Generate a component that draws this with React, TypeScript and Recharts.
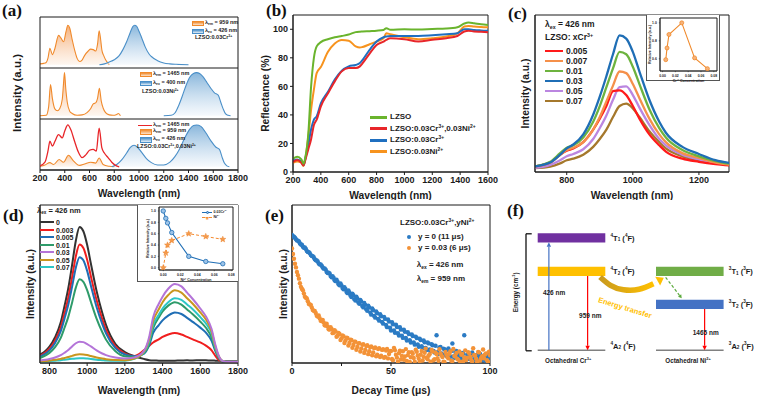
import React from "react";
import {
  ComposedChart, LineChart, ScatterChart, Line, Area, Scatter, XAxis, YAxis,
  ReferenceArea, ReferenceLine, ReferenceDot,
} from "recharts";

const FONT = "'Liberation Sans', Arial, Helvetica, sans-serif";
const SERIF = "'Liberation Serif', 'Times New Roman', serif";
const INK = "#1b1b1b";

// ---------- (a) excitation / emission spectra, normalised per sub-panel ----------
const A_TICKS = [200, 400, 600, 800, 1000, 1200, 1400, 1600, 1800];
const A1_EXC_NM = [200, 230, 250, 265, 280, 300, 320, 350, 370, 390, 410, 425, 440, 460, 480, 500, 520, 540, 560, 590, 610, 630, 650, 665, 678, 690, 700, 715, 730, 745, 760];
const A1_EXC = [0.02, 0.03, 0.05, 0.15, 0.36, 0.22, 0.35, 0.64, 0.58, 0.5, 0.72, 0.86, 0.8, 0.55, 0.32, 0.14, 0.07, 0.1, 0.2, 0.3, 0.34, 0.33, 0.3, 0.45, 0.74, 0.55, 0.32, 0.2, 0.11, 0.05, 0];
const A1_EMI_NM = [680, 720, 760, 800, 840, 870, 900, 930, 950, 965, 980, 1000, 1020, 1050, 1080, 1100, 1150, 1200, 1250, 1300, 1400];
const A1_EMI = [0, 0.02, 0.06, 0.11, 0.2, 0.33, 0.5, 0.71, 0.83, 0.86, 0.84, 0.73, 0.6, 0.39, 0.24, 0.18, 0.09, 0.04, 0.02, 0.01, 0];
const A2_EXC_NM = [200, 250, 270, 285, 300, 320, 340, 360, 380, 390, 398, 408, 420, 440, 460, 500, 540, 580, 610, 630, 650, 665, 680, 695, 710, 730, 760, 790, 820, 835, 850];
const A2_EXC = [0, 0.01, 0.2, 0.68, 0.38, 0.15, 0.11, 0.16, 0.36, 0.7, 0.94, 0.6, 0.3, 0.1, 0.05, 0.01, 0.02, 0.07, 0.16, 0.26, 0.28, 0.38, 0.6, 0.32, 0.17, 0.07, 0.02, 0.01, 0.03, 0.05, 0];
const A2_EMI_NM = [1200, 1260, 1290, 1320, 1350, 1380, 1410, 1440, 1465, 1490, 1520, 1550, 1580, 1610, 1640, 1660, 1680, 1700, 1720, 1740];
const A2_EMI = [0, 0.01, 0.06, 0.22, 0.43, 0.66, 0.84, 0.92, 0.94, 0.92, 0.84, 0.72, 0.6, 0.5, 0.45, 0.3, 0.15, 0.04, 0.01, 0];
const A3_NI_NM = [200, 240, 265, 280, 300, 320, 350, 380, 400, 425, 450, 480, 510, 540, 570, 600, 630, 655, 678, 700, 720, 750, 780, 810, 840];
const A3_NI = [0.02, 0.1, 0.35, 0.56, 0.45, 0.55, 0.7, 0.63, 0.78, 0.91, 0.8, 0.55, 0.32, 0.2, 0.26, 0.36, 0.38, 0.34, 0.84, 0.41, 0.3, 0.2, 0.1, 0.03, 0];
const A3_CR_NM = [200, 240, 280, 310, 355, 390, 430, 470, 520, 560, 610, 650, 678, 710, 760, 800];
const A3_CR = [0.01, 0.04, 0.09, 0.05, 0.16, 0.1, 0.25, 0.13, 0.03, 0.06, 0.1, 0.08, 0.19, 0.05, 0.01, 0];
const A3_EMI_NM = [780, 820, 860, 900, 930, 960, 990, 1020, 1060, 1100, 1150, 1200, 1250, 1290, 1330, 1370, 1410, 1440, 1465, 1500, 1540, 1580, 1620, 1650, 1670, 1690, 1710, 1730];
const A3_EMI = [0, 0.05, 0.15, 0.3, 0.42, 0.47, 0.42, 0.32, 0.18, 0.09, 0.04, 0.04, 0.1, 0.22, 0.4, 0.63, 0.82, 0.9, 0.91, 0.88, 0.74, 0.57, 0.43, 0.38, 0.22, 0.08, 0.02, 0];

// ---------- (b) diffuse reflectance ----------
const B_XTICKS = [200, 400, 600, 800, 1000, 1200, 1400, 1600];
const B_YTICKS = [0, 20, 40, 60, 80, 100];
const REFL_NM = [200, 230, 260, 275, 290, 310, 330, 350, 370, 400, 450, 500, 550, 600, 650, 680, 700, 750, 800, 850, 870, 900, 1000, 1100, 1200, 1300, 1380, 1430, 1460, 1500, 1550, 1600];
const REFL_LZSO = [9.3, 10.7, 8.8, 5.8, 11, 27, 60, 80, 88, 91, 93, 94.4, 95.3, 96.3, 98, 98.3, 98.4, 98.7, 99, 99.5, 100.8, 99.6, 100, 99.8, 100.2, 100.5, 101.4, 104, 104.7, 104.2, 103.5, 103];
const REFL_CRNI = [7, 8.4, 6.5, 4.7, 9, 16, 23, 33, 36.7, 46, 55, 63.5, 70.5, 72.8, 72.8, 74, 76.3, 83, 89, 91.4, 92.6, 93.7, 93, 91.4, 92.6, 93.7, 95.3, 98.4, 99, 98.4, 98.2, 98];
const REFL_CR = [7.7, 8.8, 7.2, 4.7, 10, 19, 30, 36.7, 39, 48, 56, 64.7, 71, 74, 75, 76.3, 78.6, 85.6, 91.4, 94.4, 95, 95.3, 95.3, 95.3, 95.8, 96.5, 97.2, 100, 100, 99.5, 99.2, 99];
const REFL_NI = [6.5, 7.4, 6.5, 4.2, 10, 25, 43.7, 57.7, 69.3, 73.5, 84, 90, 92.5, 92, 88, 87.2, 87.6, 89.5, 91.4, 93.7, 97.2, 96.5, 94.4, 93, 93.7, 94.9, 97.2, 101.9, 102.3, 101.9, 101.6, 101.4];

// ---------- (c) Cr3+ concentration series ----------
const C_TICKS = [800, 1000, 1200];
const C_NM = [700, 750, 780, 800, 820, 850, 880, 900, 920, 940, 960, 980, 1000, 1020, 1050, 1080, 1100, 1150, 1200, 1250, 1300];
const C_005 = [3.5, 6, 11, 13.5, 15, 19, 27, 34, 42, 51.5, 52, 49, 42, 34, 24, 17, 13, 8.5, 6.5, 5, 4];
const C_007 = [3.5, 6, 11, 14, 15.5, 19, 27, 35, 45, 55, 64, 63, 56, 47, 34, 24, 19, 12, 9, 6, 4.5];
const C_01 = [3.5, 6.5, 12, 15.5, 17, 22, 32, 42, 54, 66, 76.5, 75, 67, 56, 40, 28, 22, 14, 10, 7, 5];
const C_03 = [3.5, 6, 11, 15, 17.5, 24, 36.5, 48, 61, 75, 87, 85, 76.5, 64, 46, 32, 25, 16, 11.5, 7.5, 5.5];
const C_05 = [2.5, 4.5, 7.5, 10, 11.5, 14.5, 21, 28, 36, 46, 54, 54.5, 49, 41, 30, 21, 17, 11, 8, 5.5, 4.5];
const C_07 = [2.5, 3.5, 5.5, 7.5, 8.5, 11, 16, 21, 27, 35, 42, 43.5, 40.5, 35, 26, 19, 15, 10, 7.5, 5.5, 4.5];
const C_LABELS = ["0.005", "0.007", "0.01", "0.03", "0.05", "0.07"];
const CI_X = [0.005, 0.007, 0.01, 0.03, 0.05, 0.07];
const CI_Y = [0.59, 0.72, 0.87, 1.0, 0.61, 0.49];

// ---------- (d) Ni2+ concentration series ----------
const D_TICKS = [800, 1000, 1200, 1400, 1600, 1800];
const D_NM = [750, 780, 800, 830, 860, 880, 900, 920, 940, 960, 980, 1000, 1020, 1050, 1080, 1100, 1150, 1200, 1250, 1300, 1330, 1350, 1380, 1400, 1430, 1465, 1500, 1530, 1560, 1600, 1630, 1660, 1680, 1700, 1720, 1750, 1800];
const D_0 = [5.2, 7.7, 10.3, 16.3, 25.8, 36.1, 47.3, 61.9, 77.4, 86, 83.4, 74.8, 62.8, 45.6, 31.8, 24.1, 12, 6.9, 4.3, 2.6, 1.8, 1.6, 1.5, 1.4, 1.4, 1.5, 1.6, 1.7, 1.6, 1.8, 1.7, 1.6, 1.5, 1.4, 1.3, 1.2, 1.2];
const D_003 = [4.5, 6.8, 9, 14.3, 22.5, 31.5, 41.3, 54, 67.5, 75, 72.8, 65.3, 54.8, 39.8, 27.8, 21, 10.5, 6, 4.5, 8, 11, 13, 15, 16.5, 18, 19, 18, 16.5, 15, 13, 11, 8, 4.5, 1.8, 1, 0.8, 0.8];
const D_005 = [4, 6, 8, 12.7, 20.1, 28.1, 36.9, 48.2, 60.3, 67, 65, 58.3, 48.9, 35.5, 24.8, 18.8, 9.4, 5.4, 4.3, 5.8, 11.6, 19, 24, 27, 30, 32, 31, 28.6, 26, 22.4, 19.2, 14, 7.5, 2.8, 1, 0.8, 0.8];
const D_01 = [3.2, 4.8, 6.4, 10, 15.9, 22.3, 29.2, 38.2, 47.7, 53, 51.4, 46.1, 38.7, 28.1, 19.6, 14.8, 7.4, 4.2, 3.8, 6.2, 12.6, 22, 28.8, 32.6, 36.3, 38.5, 37, 33.9, 30.8, 26.2, 22.3, 16.2, 8.5, 3.1, 1, 0.8, 0.8];
const D_03 = [1.5, 2, 2.5, 3.5, 5, 6.5, 8.2, 10.5, 12.5, 13.5, 13.2, 12, 10.5, 8, 6, 5, 3.5, 2.8, 3.5, 7.5, 17, 29, 37.5, 42, 47, 50, 48.5, 44.5, 40.5, 34.5, 29.5, 21.5, 11.5, 4, 1.2, 0.8, 0.8];
const D_05 = [1, 1.2, 1.5, 2, 2.6, 3.2, 3.8, 4.5, 5.2, 5.5, 5.4, 5, 4.4, 3.5, 2.8, 2.4, 1.9, 1.8, 2.8, 7, 15.5, 26.5, 34, 38.5, 43, 46, 44.5, 41, 37.5, 32, 27.5, 20, 10.5, 3.8, 1.2, 0.8, 0.8];
const D_07 = [0.8, 1, 1.2, 1.5, 1.8, 2.1, 2.4, 2.7, 2.9, 3, 3, 2.8, 2.5, 2.1, 1.8, 1.6, 1.4, 1.5, 2.6, 6.5, 14, 24, 30.5, 34.5, 38.5, 41, 40, 37, 34, 29, 25, 18.5, 9.5, 3.5, 1.2, 0.8, 0.8];
const D_LABELS = ["0", "0.003", "0.005", "0.01", "0.03", "0.05", "0.07"];
const DI_X = [0, 0.003, 0.005, 0.01, 0.03, 0.05, 0.07];
const DI_CR = [1.0, 0.87, 0.79, 0.62, 0.2, 0.11, 0.07];
const DI_NI = [0.0, 0.26, 0.4, 0.48, 0.6, 0.55, 0.5];

// ---------- (e) decay curves: samples at whole µs (A) and half µs (B) ----------
const E_TICKS = [0, 25, 50, 75, 100];
const DECAY_CR = [81.0, 79.9, 78.3, 77.4, 75.6, 74.8, 72.9, 72.2, 70.3, 69.5, 67.8, 66.9, 65.0, 64.3, 62.4, 61.6, 59.7, 59.1, 57.0, 56.6, 54.3, 54.0, 51.8, 51.4, 49.2, 49.1, 46.6, 46.9, 44.2, 44.6, 41.8, 42.9, 39.6, 40.8, 37.5, 38.9, 35.2, 36.8, 33.0, 35.1, 30.6, 33.4, 28.7, 31.5, 26.8, 29.6, 24.9, 27.9, 22.7, 26.2, 20.6, 24.5, 19.1, 22.8, 17.4, 21.1, 15.9, 19.8, 14.2, 18.3, 12.9, 17.1, 11.6, 15.8, 10.3, 14.5, 9.4, 13.1, 8.2, 12.4, 7.5, 11.2, 6.6, 17.6, 5.8, 10.1, 5.3, 8.7, 4.4, 9.2, 3.9, 12.3, 3.3, 7.6, 5.1, 2.8, 6.4, 17.6, 2.6, 5.3, 3.8, 6.7, 2.1, 4.9, 3.4, 5.8, 1.9, 4.6, 3.1, 5.2, 2.4];
const DECAY_CR_B = [80.2, 79.3, 77.6, 76.9, 75.0, 73.6, 73.1, 70.9, 70.2, 68.3, 67.6, 65.7, 64.9, 62.9, 62.3, 60.4, 59.9, 57.6, 57.2, 55.0, 54.9, 52.4, 52.7, 49.8, 50.3, 47.5, 48.0, 45.1, 45.9, 42.7, 43.8, 40.4, 41.9, 38.3, 39.9, 36.1, 38.0, 34.0, 36.2, 31.9, 34.5, 29.8, 32.6, 27.9, 30.9, 26.0, 29.2, 24.1, 27.6, 22.3, 25.9, 20.6, 24.2, 18.9, 22.6, 17.3, 21.0, 15.8, 19.5, 14.4, 18.1, 13.0, 16.7, 11.8, 15.4, 10.6, 14.2, 9.5, 13.0, 8.5, 11.9, 7.6, 10.9, 6.8, 9.9, 6.0, 9.1, 5.3, 8.3, 4.7, 7.6, 4.1, 6.9, 3.6, 6.3, 3.2, 5.8, 2.8, 5.3, 2.5, 4.9, 2.2, 4.5, 2.0, 4.2, 1.8, 3.9, 1.6, 3.6, 1.5];
const DECAY_CRNI = [72.5, 66, 60.5, 55.5, 50.5, 47, 44, 41.3, 39.1, 37, 35.2, 33, 31.6, 29.4, 28.3, 26.5, 25.6, 23.7, 23.1, 21.2, 21.5, 19.1, 19.9, 17.3, 18.4, 15.6, 17, 14.3, 15.8, 12.7, 14.6, 11.4, 13.5, 10.2, 12.6, 9.1, 11.9, 8.3, 11.2, 7.4, 10.5, 6.6, 9.8, 5.2, 9.4, 4.6, 8.7, 3.9, 8.9, 5.7, 7.6, 1.8, 8.1, 3.4, 6.2, 2.2, 7.4, 4.1, 1.3, 6.8, 3.6, 5.9, 0.9, 7.1, 2.8, 5.2, 1.6, 6.5, 3.3, 4.6, 0.8, 7.3, 2.4, 5.7, 1.4, 6.1, 3.8, 0.7, 5.4, 2.9, 7.5, 1.2, 4.4, 6.3, 2.1, 0.6, 5.8, 3.5, 1.9, 6.9, 4, 0.9, 5.1, 2.7, 7, 1.5, 4.3, 3, 6.1, 0.8, 4.9];
const DECAY_CRNI_B = [69.0, 62.8, 57.6, 53.4, 48.2, 46.1, 42.0, 40.9, 37.4, 36.8, 33.5, 32.9, 29.9, 30.1, 26.7, 27.3, 23.9, 24.8, 21.4, 22.7, 18.9, 20.8, 16.6, 19.0, 14.5, 17.4, 12.7, 16.0, 11.0, 14.7, 9.6, 13.5, 8.4, 12.4, 7.3, 11.5, 6.4, 10.7, 5.6, 10.0, 4.9, 9.4, 4.3, 8.8, 3.8, 8.3, 3.3, 7.9, 2.9, 7.5, 2.5, 9.6, 5.3, 0.9, 7.8, 4.5, 2.1, 8.8, 5.0, 0.6, 6.9, 3.2, 8.4, 4.7, 1.0, 7.6, 3.9, 9.1, 2.3, 5.6, 8.2, 1.7, 6.6, 3.1, 8.7, 4.8, 0.8, 7.0, 3.7, 5.9, 1.5, 8.9, 4.1, 2.6, 7.3, 5.2, 1.1, 8.0, 3.4, 6.1, 2.0, 9.3, 4.6, 0.7, 6.7, 3.0, 8.5, 5.4, 1.8, 7.2];

// ---------- (f) energy level scheme (arbitrary energy units) ----------
const CR_COL = [1.45, 4.05];
const NI_COL = [6.0, 8.6];
const LEVEL_NAMES = ["^{4}T_{1} (^{4}F)", "^{4}T_{2} (^{4}F)", "^{3}T_{1} (^{3}F)", "^{3}T_{2} (^{3}F)"];
const LEVEL_E = [11.25, 7.9, 7.9, 4.6];
const LEVEL_ION = ["Cr", "Cr", "Ni", "Ni"];
const LEVEL_COLORS = ["#7030A0", "#FFC000", "#70AD47", "#4472C4"];
const GROUND_NAMES = ["^{4}A_{2} (^{4}F)", "^{3}A_{2} (^{3}F)"];
const ET_X = [3.85, 4.25, 4.75, 5.35, 5.9];
const ET_E = [7.33, 6.5, 6.05, 6.1, 6.65];

const pts = (xs: number[], ys: number[]) => xs.map((x, i) => ({ x, y: ys[i] }));
const table = (xs: number[], cols: Record<string, number[]>) =>
  xs.map((x, i) => {
    const row: any = { x };
    Object.keys(cols).forEach((k) => (row[k] = cols[k][i]));
    return row;
  });

// ---------- rich text helpers (^{sup}, _{sub}) ----------
const TOKEN = /\^\{([^}]*)\}|_\{([^}]*)\}|([^\^_]+)/g;
function parse(s: string): [string, number][] {
  const out: [string, number][] = [];
  const re = new RegExp(TOKEN.source, "g");
  let m: RegExpExecArray | null;
  while ((m = re.exec(s))) {
    if (m[1] !== undefined) out.push([m[1], 1]);
    else if (m[2] !== undefined) out.push([m[2], -1]);
    else out.push([m[3], 0]);
  }
  return out;
}
function Rich({ s }: { s: string }) {
  return (
    <>
      {parse(s).map(([t, k], i) =>
        k === 0 ? <span key={i}>{t}</span> : (
          <span key={i} style={{ fontSize: "0.62em", position: "relative", top: k === 1 ? "-0.55em" : "0.35em" }}>{t}</span>
        )
      )}
    </>
  );
}
function svgRich(s: string, fs: number) {
  let cur = 0;
  return parse(s).map(([t, k], i) => {
    const target = k === 1 ? -fs * 0.38 : k === -1 ? fs * 0.22 : 0;
    const dy = target - cur;
    cur = target;
    return <tspan key={i} dy={dy} fontSize={k ? fs * 0.62 : fs}>{t}</tspan>;
  });
}

function T({ x, y, s, fs = 8, color = INK, anchor = 0 }: { x: number; y: number; s: string; fs?: number; color?: string; anchor?: number }) {
  return (
    <div style={{ position: "absolute", left: x, top: y, transform: `translate(${-anchor * 100}%, -50%)`, fontSize: fs, fontWeight: 700, fontFamily: FONT, color, whiteSpace: "nowrap", lineHeight: 1 }}>
      <Rich s={s} />
    </div>
  );
}
function LineKey({ x, y, w, color, h = 2.5, dash = false }: any) {
  return <div style={{ position: "absolute", left: x, top: y - h / 2, width: w, height: 0, borderTop: `${h}px ${dash ? "dashed" : "solid"} ${color}` }} />;
}
function BoxKey({ x, y, color, light }: any) {
  return <div style={{ position: "absolute", left: x, top: y, width: 10, height: 3.6, border: `1px solid ${color}`, background: `linear-gradient(${color}, ${light})` }} />;
}
function PanelTag({ x, y, s }: { x: number; y: number; s: string }) {
  return <div style={{ position: "absolute", left: x, top: y, fontFamily: SERIF, fontWeight: 700, fontSize: 17, lineHeight: 1, color: "#111" }}>{s}</div>;
}

const TICK = { fontSize: 9, fontWeight: 700, fill: INK, fontFamily: FONT };
const AX = { stroke: INK, strokeWidth: 1 };
const TITLE = { fontSize: 10.3, fontWeight: 700, fill: INK, fontFamily: FONT, textAnchor: "middle" };
const xTitle = (value: string, offset: number) => ({ value, position: "insideBottom", offset, style: TITLE });
const yTitle = (value: string, offset: number) => ({ value, angle: -90, position: "insideLeft", offset, style: TITLE });
const frame = (x: number[], y: number[], key = "frame") => (
  <ReferenceArea key={key} x1={x[0]} x2={x[1]} y1={y[0]} y2={y[1]} fill="none" stroke={INK} strokeWidth={1} ifOverflow="visible" />
);

const ORANGE = "#F08A2C";
const BLUE_A = "#4A8FC8";

// ---------- panel (a) ----------
const A_DOMAIN = [-0.07, 1.04];
function SubA({ top, height, mTop, bottom, children }: any) {
  return (
    <div style={{ position: "absolute", left: 0, top }}>
      <ComposedChart width={250} height={height} margin={{ top: mTop, right: 12, bottom: 0, left: 40 }}>
        <XAxis type="number" dataKey="x" domain={[200, 1800]} ticks={A_TICKS} allowDataOverflow hide={!bottom}
          height={30} tickSize={3} tick={TICK} axisLine={AX} tickLine={AX} label={xTitle("Wavelength (nm)", 3)} />
        <YAxis type="number" domain={A_DOMAIN} hide allowDataOverflow />
        {children}
        {frame([200, 1800], A_DOMAIN)}
      </ComposedChart>
    </div>
  );
}
const areaA = (xs: number[], ys: number[], grad: string, stroke: string) => (
  <Area data={pts(xs, ys)} dataKey="y" type="monotone" fill={`url(#${grad})`} stroke={stroke} strokeWidth={1.1} isAnimationActive={false} />
);

// ---------- decay dot ----------
const dotShape = (fill: string) => (p: any) => <circle cx={p.cx} cy={p.cy} r={2.2} fill={fill} />;
const starPath = (cx: number, cy: number, R: number, r: number) => {
  let d = "";
  for (let i = 0; i < 10; i++) {
    const a = -Math.PI / 2 + (i * Math.PI) / 5;
    const rad = i % 2 ? r : R;
    d += (i ? "L" : "M") + (cx + rad * Math.cos(a)).toFixed(2) + "," + (cy + rad * Math.sin(a)).toFixed(2);
  }
  return d + "Z";
};

// ---------- (f) helpers ----------
const arrowShape = (color: string, width: number, hl = 4.5, hw = 2.2, dash?: string) => (p: any) => {
  const { x1, y1, x2, y2 } = p;
  const dx = x2 - x1, dy = y2 - y1;
  const len = Math.hypot(dx, dy) || 1;
  const ux = dx / len, uy = dy / len;
  const bx = x2 - ux * hl, by = y2 - uy * hl;
  return (
    <g>
      <line x1={x1} y1={y1} x2={bx} y2={by} stroke={color} strokeWidth={width} strokeDasharray={dash} />
      <polygon points={`${x2},${y2} ${bx - uy * hw},${by + ux * hw} ${bx + uy * hw},${by - ux * hw}`} fill={color} />
    </g>
  );
};
const textShape = (s: string, fs: number, anchor: "start" | "middle", color = INK, rotate = 0) => (p: any) => (
  <text x={p.cx} y={p.cy} fontSize={fs} fontWeight={700} fontFamily={FONT} fill={color} textAnchor={anchor}
    dominantBaseline="central" transform={rotate ? `rotate(${rotate} ${p.cx} ${p.cy})` : undefined}>
    {svgRich(s, fs)}
  </text>
);
const lineShape = (color: string, width: number) => (p: any) => <line x1={p.x1} y1={p.y1} x2={p.x2} y2={p.y2} stroke={color} strokeWidth={width} />;

export default function App() {
  const reflData = table(REFL_NM, { lzso: REFL_LZSO, crni: REFL_CRNI, cr: REFL_CR, ni: REFL_NI });
  const cData = table(C_NM, { c005: C_005, c007: C_007, c01: C_01, c03: C_03, c05: C_05, c07: C_07 });
  const dData = table(D_NM, { d0: D_0, d003: D_003, d005: D_005, d01: D_01, d03: D_03, d05: D_05, d07: D_07 });
  const ciData = pts(CI_X, CI_Y);
  const diData = table(DI_X, { cr: DI_CR, ni: DI_NI });
  const decayCr = [...DECAY_CR.map((y, i) => ({ x: i, y })), ...DECAY_CR_B.map((y, i) => ({ x: i + 0.5, y }))];
  const decayCrNi = [...DECAY_CRNI.map((y, i) => ({ x: i, y })), ...DECAY_CRNI_B.map((y, i) => ({ x: i + 0.5, y }))];

  const C_COLORS = ["#FF1A1A", "#F5904A", "#6DB33F", "#1F6EB5", "#BB86E0", "#A5782C"];
  const C_KEYS = ["c005", "c007", "c01", "c03", "c05", "c07"];
  const D_COLORS = ["#333333", "#F01E1E", "#1F6EB5", "#2E9B6A", "#B474D8", "#C8961E", "#2CC6C6"];
  const D_KEYS = ["d0", "d003", "d005", "d01", "d03", "d05", "d07"];
  const B_SERIES = [
    { key: "lzso", color: "#6AB42D", name: "LZSO" },
    { key: "crni", color: "#E8262A", name: "LZSO:0.03Cr^{3+},0.03Ni^{2+}" },
    { key: "cr", color: "#1F6FC0", name: "LZSO:0.03Cr^{3+}" },
    { key: "ni", color: "#F7931E", name: "LZSO:0.03Ni^{2+}" },
  ];
  const tinyTick = { fontSize: 3.4, fill: INK, fontFamily: FONT, fontWeight: 700 };
  const tinyTitle = { fontSize: 3.6, fontWeight: 700, fill: INK, fontFamily: FONT, textAnchor: "middle" };

  return (
    <div style={{ position: "fixed", left: 0, top: 0, width: 760, height: 396, background: "#fff", overflow: "hidden" }}>
      <svg width={0} height={0} style={{ position: "absolute" }}>
        <defs>
          <linearGradient id="gOrange" x1="0" y1="0" x2="0" y2="1">
            <stop offset="0%" stopColor="#EE7A1F" stopOpacity={1} />
            <stop offset="100%" stopColor="#FDEBDC" stopOpacity={0.7} />
          </linearGradient>
          <linearGradient id="gOrangePale" x1="0" y1="0" x2="0" y2="1">
            <stop offset="0%" stopColor="#F5A867" stopOpacity={1} />
            <stop offset="100%" stopColor="#FDEBDC" stopOpacity={0.7} />
          </linearGradient>
          <linearGradient id="gBlue" x1="0" y1="0" x2="0" y2="1">
            <stop offset="0%" stopColor="#3A86C4" stopOpacity={1} />
            <stop offset="100%" stopColor="#EAF2FA" stopOpacity={0.7} />
          </linearGradient>
          <linearGradient id="etGrad" x1="0" y1="0" x2="1" y2="0">
            <stop offset="0%" stopColor="#C99A1E" />
            <stop offset="100%" stopColor="#FFC000" />
          </linearGradient>
        </defs>
      </svg>

      {/* (a) */}
      <SubA top={0} height={68} mTop={17}>
        {areaA(A1_EXC_NM, A1_EXC, "gOrange", ORANGE)}
        {areaA(A1_EMI_NM, A1_EMI, "gBlue", BLUE_A)}
      </SubA>
      <SubA top={68} height={51} mTop={0}>
        {areaA(A2_EXC_NM, A2_EXC, "gOrange", ORANGE)}
        {areaA(A2_EMI_NM, A2_EMI, "gBlue", BLUE_A)}
      </SubA>
      <SubA top={119} height={81} mTop={0} bottom>
        {areaA(A3_CR_NM, A3_CR, "gOrangePale", ORANGE)}
        {areaA(A3_EMI_NM, A3_EMI, "gBlue", BLUE_A)}
        <Line data={pts(A3_NI_NM, A3_NI)} dataKey="y" type="monotone" stroke="#E8262A" strokeWidth={1.3} dot={false} isAnimationActive={false} />
      </SubA>
      <div style={{ position: "absolute", left: 17, top: 93, transform: "translate(-50%, -50%) rotate(-90deg)", fontFamily: FONT, fontWeight: 700, fontSize: 11.5, whiteSpace: "nowrap", color: INK }}>Intensity (a.u.)</div>
      <BoxKey x={192} y={20.5} color={ORANGE} light="#FCE3CC" />
      <T x={205} y={23} fs={5.5} s="λ_{em} = 959 nm" />
      <BoxKey x={192} y={28.5} color={BLUE_A} light="#E6F0F8" />
      <T x={205} y={30.5} fs={5.5} s="λ_{ex} = 426 nm" />
      <T x={195} y={38} fs={5.5} s="LZSO:0.03Cr^{3+}" />
      <BoxKey x={140} y={71.5} color={ORANGE} light="#FCE3CC" />
      <T x={153} y={73.5} fs={5.5} s="λ_{em} = 1465 nm" />
      <BoxKey x={140} y={80.5} color={BLUE_A} light="#E6F0F8" />
      <T x={153} y={82.5} fs={5.5} s="λ_{ex} = 400 nm" />
      <T x={142} y={92} fs={5.5} s="LZSO:0.03Ni^{2+}" />
      <LineKey x={138} y={125.3} w={13.5} h={1.3} color="#E8262A" />
      <T x={153} y={125.3} fs={5.5} s="λ_{em} = 1465 nm" />
      <BoxKey x={140} y={129.3} color={ORANGE} light="#FCE3CC" />
      <T x={153} y={131.3} fs={5.5} s="λ_{em} = 959 nm" />
      <BoxKey x={140} y={137} color={BLUE_A} light="#E6F0F8" />
      <T x={153} y={139} fs={5.5} s="λ_{ex} = 426 nm" />
      <T x={137} y={146.5} fs={5.5} s="LZSO:0.03Cr^{3+},0.03Ni^{2+}" />

      {/* (b) */}
      <div style={{ position: "absolute", left: 250, top: 0 }}>
        <LineChart width={260} height={200} data={reflData} margin={{ top: 15, right: 22, bottom: 0, left: 0 }}>
          <XAxis type="number" dataKey="x" domain={[200, 1600]} ticks={B_XTICKS} allowDataOverflow height={28} tickSize={3}
            tick={TICK} axisLine={AX} tickLine={AX} label={xTitle("Wavelength (nm)", 1)} />
          <YAxis type="number" domain={[0, 110]} ticks={B_YTICKS} allowDataOverflow width={43} tickSize={3}
            tick={TICK} axisLine={AX} tickLine={AX} label={yTitle("Reflectance (%)", 15)} />
          {[3, 2, 1, 0].map((i) => (
            <Line key={B_SERIES[i].key} dataKey={B_SERIES[i].key} type="monotone" stroke={B_SERIES[i].color} strokeWidth={2} dot={false} isAnimationActive={false} />
          ))}
          {frame([200, 1600], [0, 110])}
        </LineChart>
      </div>
      {B_SERIES.map((s, i) => (
        <React.Fragment key={s.key}>
          <LineKey x={370} y={[117.3, 128.5, 140, 151.7][i]} w={17} h={3} color={s.color} />
          <T x={390} y={[117.3, 128.5, 140, 151.7][i]} fs={8} s={s.name} />
        </React.Fragment>
      ))}

      {/* (c) */}
      <div style={{ position: "absolute", left: 500, top: 0 }}>
        <LineChart width={260} height={200} data={cData} margin={{ top: 15, right: 31, bottom: 0, left: 0 }}>
          <XAxis type="number" dataKey="x" domain={[704, 1291]} ticks={C_TICKS} allowDataOverflow height={28} tickSize={3}
            tick={TICK} axisLine={AX} tickLine={AX} label={xTitle("Wavelength (nm)", 1)} />
          <YAxis type="number" domain={[0, 100]} allowDataOverflow width={35} tick={false} tickLine={false}
            axisLine={AX} label={yTitle("Intensity (a.u.)", 25)} />
          {[5, 4, 0, 1, 2, 3].map((i) => (
            <Line key={C_KEYS[i]} dataKey={C_KEYS[i]} type="monotone" stroke={C_COLORS[i]} strokeWidth={2.3} dot={false} isAnimationActive={false} />
          ))}
          {frame([704, 1291], [0, 100])}
        </LineChart>
      </div>
      <T x={545} y={24} fs={8.5} s="λ_{ex} = 426 nm" />
      <T x={545} y={37} fs={8.5} s="LZSO: xCr^{3+}" />
      {C_LABELS.map((l, i) => (
        <React.Fragment key={l}>
          <LineKey x={545} y={51 + i * 10} w={18} h={2.6} color={C_COLORS[i]} />
          <T x={566} y={51 + i * 10} fs={8.5} s={l} />
        </React.Fragment>
      ))}
      <div style={{ position: "absolute", left: 646, top: 15, width: 74, height: 66, background: "#fff", borderLeft: "0.8px solid #555", borderRight: "0.8px solid #555", borderBottom: "0.8px solid #555", boxSizing: "border-box" }} />
      <div style={{ position: "absolute", left: 646, top: 15 }}>
        <LineChart width={74} height={67} data={ciData} margin={{ top: 3, right: 3, bottom: 0, left: 0 }}>
          <XAxis type="number" dataKey="x" domain={[-0.004, 0.085]} ticks={[0, 0.02, 0.04, 0.06, 0.08]} tickFormatter={(v: number) => v.toFixed(2)}
            allowDataOverflow height={11} tickSize={1.2} tick={tinyTick} axisLine={{ stroke: INK, strokeWidth: 0.6 }} tickLine={{ stroke: INK, strokeWidth: 0.5 }}
            label={{ value: "Cr³⁺ Concentration", position: "insideBottom", offset: 0.5, style: tinyTitle }} />
          <YAxis type="number" domain={[0.464, 1.054]} ticks={[0.5, 0.6, 0.7, 0.8, 0.9, 1.0]} tickFormatter={(v: number) => v.toFixed(1)}
            allowDataOverflow width={14} tickSize={1.2} tick={tinyTick} axisLine={{ stroke: INK, strokeWidth: 0.6 }} tickLine={{ stroke: INK, strokeWidth: 0.5 }}
            label={{ value: "Relative Intensity (a.u.)", angle: -90, position: "insideLeft", offset: 4, style: tinyTitle }} />
          <Line dataKey="y" type="linear" stroke={ORANGE} strokeWidth={1.1} isAnimationActive={false}
            dot={{ r: 2, fill: "#F7B27A", stroke: ORANGE, strokeWidth: 0.8 }} />
          {frame([-0.004, 0.085], [0.464, 1.054])}
        </LineChart>
      </div>

      {/* (d) */}
      <div style={{ position: "absolute", left: 0, top: 190 }}>
        <LineChart width={250} height={206} data={dData} margin={{ top: 15, right: 12, bottom: 0, left: 0 }}>
          <XAxis type="number" dataKey="x" domain={[750, 1800]} ticks={D_TICKS} allowDataOverflow height={33} tickSize={3}
            tick={TICK} axisLine={AX} tickLine={AX} label={xTitle("Wavelength (nm)", 2)} />
          <YAxis type="number" domain={[0, 100]} allowDataOverflow width={40} tick={false} tickLine={false}
            axisLine={AX} label={yTitle("Intensity (a.u.)", 30)} />
          {[0, 1, 2, 3, 6, 5, 4].map((i) => (
            <Line key={D_KEYS[i]} dataKey={D_KEYS[i]} type="monotone" stroke={D_COLORS[i]} strokeWidth={2} dot={false} isAnimationActive={false} />
          ))}
          {frame([750, 1800], [0, 100])}
        </LineChart>
      </div>
      <T x={37} y={210.5} fs={7.5} s="λ_{ex} = 426 nm" />
      {D_LABELS.map((l, i) => (
        <React.Fragment key={l}>
          <LineKey x={40} y={222.3 + i * 7.5} w={14} h={2.4} color={D_COLORS[i]} />
          <T x={56} y={222.3 + i * 7.5} fs={7} s={l} />
        </React.Fragment>
      ))}
      <div style={{ position: "absolute", left: 137, top: 205, width: 101, height: 77, background: "#fff", borderLeft: "0.8px solid #555", borderBottom: "0.8px solid #555", boxSizing: "border-box" }} />
      <div style={{ position: "absolute", left: 137, top: 205 }}>
        <LineChart width={100} height={77} data={diData} margin={{ top: 2, right: 4, bottom: 0, left: 0 }}>
          <XAxis type="number" dataKey="x" domain={[-0.005, 0.082]} ticks={[0, 0.02, 0.04, 0.06, 0.08]} tickFormatter={(v: number) => v.toFixed(2)}
            allowDataOverflow height={12} tickSize={1.2} tick={tinyTick} axisLine={{ stroke: INK, strokeWidth: 0.6 }} tickLine={{ stroke: INK, strokeWidth: 0.5 }}
            label={{ value: "Ni²⁺ Concentration", position: "insideBottom", offset: 1.5, style: tinyTitle }} />
          <YAxis type="number" domain={[-0.04, 1.07]} ticks={[0, 0.2, 0.4, 0.6, 0.8, 1.0]} tickFormatter={(v: number) => v.toFixed(1)}
            allowDataOverflow width={22} tickSize={1.2} tick={tinyTick} axisLine={{ stroke: INK, strokeWidth: 0.6 }} tickLine={{ stroke: INK, strokeWidth: 0.5 }}
            label={{ value: "Relative Intensity (a.u.)", angle: -90, position: "insideLeft", offset: 11, style: tinyTitle }} />
          <Line dataKey="cr" type="linear" stroke="#1F6EB5" strokeWidth={1.1} isAnimationActive={false}
            dot={{ r: 2.2, fill: "#9CC3E8", stroke: "#1F6EB5", strokeWidth: 0.8 }} />
          <Line dataKey="ni" type="linear" stroke="#F58A2E" strokeWidth={1} strokeDasharray="3 2" isAnimationActive={false}
            dot={(p: any) => <path key={p.index} d={starPath(p.cx, p.cy, 3.2, 1.4)} fill="#F59B4C" stroke="#E8781E" strokeWidth={0.4} />} />
          {frame([-0.005, 0.082], [-0.04, 1.07])}
        </LineChart>
      </div>
      <LineKey x={202} y={212.7} w={10} h={0.9} color="#1F6EB5" />
      <div style={{ position: "absolute", left: 205.5, top: 211, width: 3.4, height: 3.4, borderRadius: 2, background: "#9CC3E8", border: "0.7px solid #1F6EB5", boxSizing: "border-box" }} />
      <T x={213.5} y={212.7} fs={3.6} s="0.03Cr^{3+}" />
      <LineKey x={202} y={217.5} w={10} h={0.9} dash color="#F58A2E" />
      <div style={{ position: "absolute", left: 205, top: 215.5, color: "#F59B4C", fontSize: 5, lineHeight: 1 }}>★</div>
      <T x={213.5} y={217.5} fs={3.6} s="Ni^{2+}" />

      {/* (e) */}
      <div style={{ position: "absolute", left: 250, top: 190 }}>
        <ScatterChart width={260} height={206} margin={{ top: 15, right: 20, bottom: 0, left: 0 }}>
          <XAxis type="number" dataKey="x" domain={[0, 100]} ticks={E_TICKS} tickFormatter={(v: number) => (v % 50 === 0 ? String(v) : "")}
            allowDataOverflow height={33} tickSize={3} tick={TICK} axisLine={AX} tickLine={AX} label={xTitle("Decay Time (μs)", 2)} />
          <YAxis type="number" dataKey="y" domain={[0, 100]} allowDataOverflow width={42} tick={false} tickLine={false}
            axisLine={AX} label={yTitle("Intensity (a.u.)", 33)} />
          <Scatter data={decayCr} shape={dotShape("#2B7BC4")} isAnimationActive={false} />
          <Scatter data={decayCrNi} shape={dotShape("#F39237")} isAnimationActive={false} />
          {frame([0, 100], [0, 100])}
        </ScatterChart>
      </div>
      <T x={400} y={222.7} fs={8} s="LZSO:0.03Cr^{3+},yNi^{2+}" />
      <div style={{ position: "absolute", left: 407, top: 234.7, width: 4, height: 4, borderRadius: 2, background: "#2B7BC4" }} />
      <T x={418} y={236.7} fs={8} s="y = 0 (11 μs)" />
      <div style={{ position: "absolute", left: 407, top: 246.3, width: 4, height: 4, borderRadius: 2, background: "#F39237" }} />
      <T x={418} y={248.3} fs={8} s="y = 0.03 (6 μs)" />
      <T x={416.7} y={265} fs={8} s="λ_{ex} = 426 nm" />
      <T x={416.7} y={279.3} fs={8} s="λ_{em} = 959 nm" />

      {/* (f) */}
      <div style={{ position: "absolute", left: 500, top: 190 }}>
        <ComposedChart width={260} height={206} margin={{ top: 0, right: 0, bottom: 0, left: 0 }}>
          <XAxis type="number" dataKey="x" domain={[0, 10]} hide allowDataOverflow />
          <YAxis type="number" domain={[-4.57, 16.03]} hide allowDataOverflow />
          {LEVEL_E.map((e, i) => {
            const col = LEVEL_ION[i] === "Cr" ? CR_COL : NI_COL;
            return <ReferenceArea key={"lv" + i} x1={col[0]} x2={col[1]} y1={e - 0.465} y2={e + 0.465} fill={LEVEL_COLORS[i]} fillOpacity={1} stroke="none" ifOverflow="visible" />;
          })}
          {[CR_COL, NI_COL].map((col, i) => (
            <ReferenceLine key={"g" + i} segment={[{ x: col[0], y: 0 }, { x: col[1], y: 0 }]} shape={lineShape("#808080", 1.5)} ifOverflow="visible" />
          ))}
          <ReferenceLine segment={[{ x: 1.0, y: -0.05 }, { x: 1.0, y: 11.65 }]} shape={lineShape("#111", 1.3)} ifOverflow="visible" />
          <ReferenceLine segment={[{ x: 1.0, y: 11.65 }, { x: 1.22, y: 11.65 }]} shape={lineShape("#111", 1.3)} ifOverflow="visible" />
          <ReferenceLine segment={[{ x: 1.0, y: -0.05 }, { x: 1.22, y: -0.05 }]} shape={lineShape("#111", 1.3)} ifOverflow="visible" />
          <ReferenceLine segment={[{ x: 1.88, y: 0 }, { x: 1.88, y: 10.8 }]} shape={arrowShape("#4472C4", 1.2)} ifOverflow="visible" />
          <ReferenceLine segment={[{ x: 3.37, y: 7.43 }, { x: 3.37, y: 0 }]} shape={arrowShape("#FF0000", 1.2)} ifOverflow="visible" />
          <ReferenceLine segment={[{ x: 7.87, y: 4.13 }, { x: 7.87, y: 0 }]} shape={arrowShape("#FF0000", 1.2)} ifOverflow="visible" />
          <ReferenceLine segment={[{ x: 6.37, y: 7.3 }, { x: 6.99, y: 5.2 }]} shape={arrowShape("#5BAA3C", 1.2, 3.5, 2, "3 2")} ifOverflow="visible" />
          <Line data={pts(ET_X, ET_E)} dataKey="y" type="natural" stroke="url(#etGrad)" strokeWidth={5.5} dot={false} isAnimationActive={false} />
          <ReferenceLine segment={[{ x: 5.75, y: 6.45 }, { x: 6.3, y: 7.25 }]} shape={arrowShape("#FFC000", 0.1, 7, 5)} ifOverflow="visible" />
          {LEVEL_E.map((e, i) => {
            const col = LEVEL_ION[i] === "Cr" ? CR_COL : NI_COL;
            return <ReferenceDot key={"ll" + i} x={col[1] + 0.2} y={e} r={0} shape={textShape(LEVEL_NAMES[i], 7.5, "start")} ifOverflow="visible" />;
          })}
          {[CR_COL, NI_COL].map((col, i) => (
            <ReferenceDot key={"gl" + i} x={col[1] + 0.2} y={0.45} r={0} shape={textShape(GROUND_NAMES[i], 7.5, "start")} ifOverflow="visible" />
          ))}
          <ReferenceDot x={1.65} y={5.86} r={0} shape={textShape("426 nm", 6.5, "start")} ifOverflow="visible" />
          <ReferenceDot x={3.04} y={3.53} r={0} shape={textShape("959 nm", 6.5, "start")} ifOverflow="visible" />
          <ReferenceDot x={7.41} y={1.83} r={0} shape={textShape("1465 nm", 6.5, "start")} ifOverflow="visible" />
          <ReferenceDot x={2.62} y={-0.97} r={0} shape={textShape("Octahedral Cr^{3+}", 6.3, "middle")} ifOverflow="visible" />
          <ReferenceDot x={7.23} y={-0.97} r={0} shape={textShape("Octahedral Ni^{2+}", 6.3, "middle")} ifOverflow="visible" />
          <ReferenceDot x={4.81} y={4.3} r={0} shape={textShape("Energy transfer", 7.5, "middle", "#FFC000", 17)} ifOverflow="visible" />
          <ReferenceDot x={0.58} y={5.8} r={0} shape={textShape("Energy (cm^{-1})", 6.3, "middle", INK, -90)} ifOverflow="visible" />
        </ComposedChart>
      </div>

      <PanelTag x={2} y={2} s="(a)" />
      <PanelTag x={266} y={2} s="(b)" />
      <PanelTag x={508} y={5} s="(c)" />
      <PanelTag x={3} y={207} s="(d)" />
      <PanelTag x={265} y={207} s="(e)" />
      <PanelTag x={507} y={202} s="(f)" />
    </div>
  );
}
